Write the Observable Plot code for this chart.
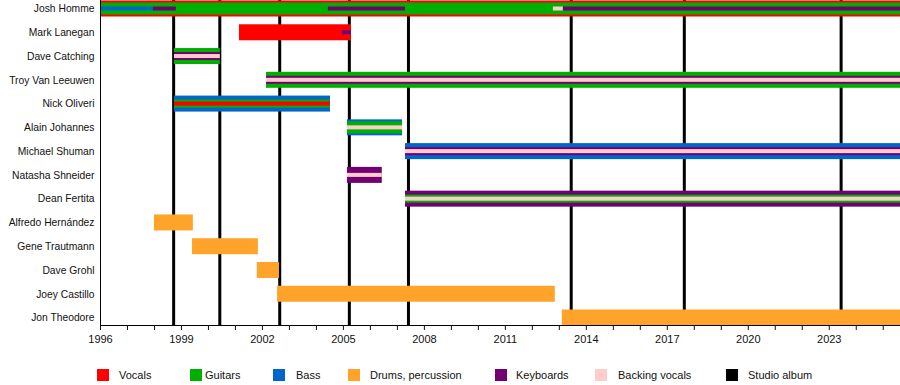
<!DOCTYPE html>
<html><head><meta charset="utf-8">
<script src="https://cdn.jsdelivr.net/npm/d3@7"></script>
<script src="https://cdn.jsdelivr.net/npm/@observablehq/plot@0.6"></script>
<style>
body{margin:0;background:#fff;font-family:"Liberation Sans",Arial,sans-serif;}
#legend{position:relative;width:900px;height:30px;font-size:11px;color:#111;}
#legend .sw{position:absolute;top:14px;width:12px;height:12px;}
#legend .lb{position:absolute;top:13px;line-height:14px;white-space:nowrap;}
</style></head>
<body><div id="chart"></div><div id="legend"></div>
<script>
const members = ["Josh Homme","Mark Lanegan","Dave Catching","Troy Van Leeuwen","Nick Oliveri","Alain Johannes","Michael Shuman","Natasha Shneider","Dean Fertita","Alfredo Hernández","Gene Trautmann","Dave Grohl","Joey Castillo","Jon Theodore"];
const roles = ["Vocals","Guitars","Bass","Drums, percussion","Keyboards","Backing vocals","Studio album"];
const roleColors = ["#ff0000","#00b000","#0066cc","#ffa32a","#730073","#ffcccc","#000000"];
const albumDates = [1998.71, 2000.42, 2002.64, 2005.22, 2007.41, 2013.44, 2017.63, 2023.44];
const startYear = 1996, endYear = 2025.64;
const tickYears = d3.range(1996, 2026);
// [member, role, from, till, stripe level (0 = outer ... 3 = centre)]
const stints = [
  ["Josh Homme","Vocals",1996,endYear,0],
  ["Josh Homme","Guitars",1996,endYear,1],
  ["Josh Homme","Bass",1996,1997.96,3],
  ["Josh Homme","Keyboards",1997.96,1998.81,3],
  ["Josh Homme","Keyboards",2004.44,2007.30,3],
  ["Josh Homme","Backing vocals",2012.78,2013.15,3],
  ["Josh Homme","Keyboards",2013.15,endYear,3],
  ["Mark Lanegan","Vocals",2001.15,2005.30,0],
  ["Mark Lanegan","Keyboards",2004.96,2005.30,3],
  ["Dave Catching","Guitars",1998.74,2000.44,0],
  ["Dave Catching","Keyboards",1998.74,2000.44,2],
  ["Dave Catching","Backing vocals",1998.74,2000.44,3],
  ["Troy Van Leeuwen","Guitars",2002.15,endYear,0],
  ["Troy Van Leeuwen","Keyboards",2002.15,endYear,2],
  ["Troy Van Leeuwen","Backing vocals",2002.15,endYear,3],
  ["Nick Oliveri","Bass",1998.74,2004.52,0],
  ["Nick Oliveri","Guitars",1998.74,2004.52,2],
  ["Nick Oliveri","Vocals",1998.74,2004.52,3],
  ["Alain Johannes","Bass",2005.15,2007.19,0],
  ["Alain Johannes","Guitars",2005.15,2007.19,1],
  ["Alain Johannes","Backing vocals",2005.15,2007.19,3],
  ["Michael Shuman","Bass",2007.30,endYear,0],
  ["Michael Shuman","Keyboards",2007.30,endYear,2],
  ["Michael Shuman","Backing vocals",2007.30,endYear,3],
  ["Natasha Shneider","Keyboards",2005.15,2006.44,0],
  ["Natasha Shneider","Backing vocals",2005.15,2006.44,3],
  ["Dean Fertita","Keyboards",2007.30,endYear,0],
  ["Dean Fertita","Guitars",2007.30,endYear,2],
  ["Dean Fertita","Backing vocals",2007.30,endYear,3],
  ["Alfredo Hernández","Drums, percussion",1998.00,1999.44,0],
  ["Gene Trautmann","Drums, percussion",1999.41,2001.85,0],
  ["Dave Grohl","Drums, percussion",2001.81,2002.63,0],
  ["Joey Castillo","Drums, percussion",2002.56,2012.85,0],
  ["Jon Theodore","Drums, percussion",2013.11,endYear,0]
];

const step = 23.77, barH = 16;
const base = (step - barH) / 2;
const levelInset = [0, 2, 4, 6];
const top0 = 8.5 - step / 2;

const barMarks = levelInset.map((ins, lvl) =>
  Plot.barX(stints.filter(d => d[4] === lvl), {
    x1: d => d[2], x2: d => d[3], y: d => d[0], fill: d => d[1],
    insetTop: base + ins, insetBottom: base + ins
  })
);

const chart = Plot.plot({
  width: 900, height: 355,
  marginLeft: 100, marginRight: 0, marginTop: 0, marginBottom: 30,
  style: {fontFamily: "'Liberation Sans', Arial, sans-serif", fontSize: "11px", color: "#111", background: "#fff"},
  x: {domain: [startYear, endYear]},
  y: {type: "band", domain: members, range: [top0, top0 + step * members.length], padding: 0, round: false},
  color: {domain: roles, range: roleColors},
  marks: [
    Plot.ruleX(albumDates, {stroke: "#000", strokeWidth: 3}),
    ...barMarks,
    Plot.frame({anchor: "left", stroke: "#000"}),
    Plot.frame({anchor: "bottom", stroke: "#000"}),
    Plot.axisX({ticks: tickYears, tickSize: 5, tickPadding: 5, tickFormat: d => (d - 1996) % 3 === 0 ? String(d) : "", label: null}),
    Plot.axisY({tickSize: 0, tickPadding: 6, label: null, fontSize: 10.3})
  ]
});
document.getElementById("chart").appendChild(chart);

const legendSwatchX = [97, 190, 273, 348, 495, 595, 726];
const legendLabelX = [119, 205, 296, 370, 516, 618, 748];
const legend = document.getElementById("legend");
roles.forEach((r, i) => {
  const sw = document.createElement("div");
  sw.className = "sw"; sw.style.left = legendSwatchX[i] + "px"; sw.style.background = roleColors[i];
  const lb = document.createElement("div");
  lb.className = "lb"; lb.style.left = legendLabelX[i] + "px"; lb.textContent = r;
  legend.appendChild(sw); legend.appendChild(lb);
});
</script>
</body></html>
